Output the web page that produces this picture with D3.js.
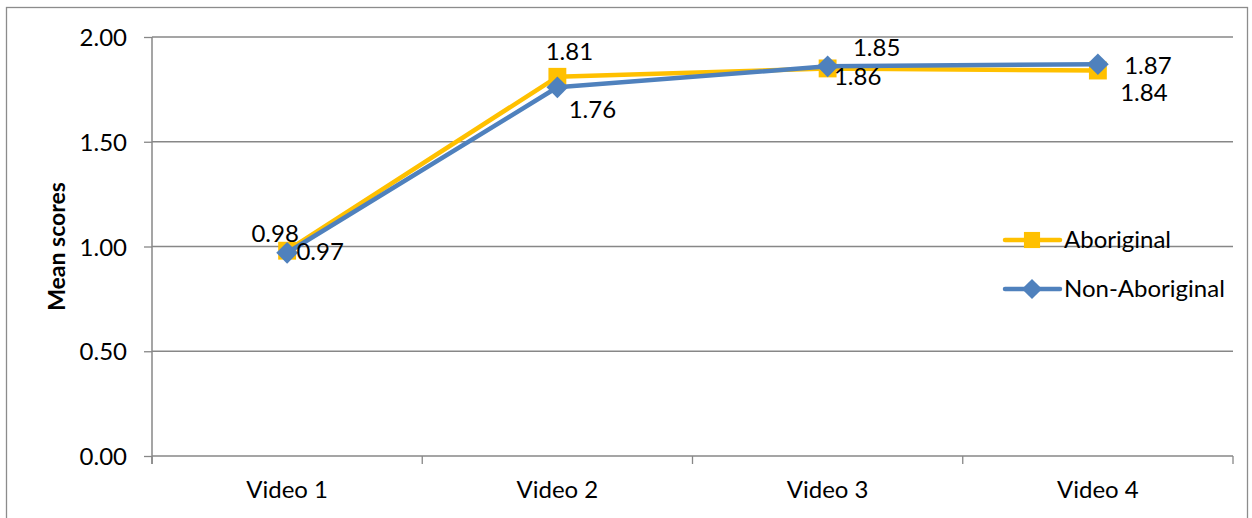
<!DOCTYPE html>
<html><head><meta charset="utf-8">
<script src="https://cdn.jsdelivr.net/npm/d3@7"></script>
<style>body{margin:0;background:#fff}svg{display:block}text{font-family:Lato,"Noto Sans",sans-serif;fill:#000}</style>
</head><body>
<script>
const categories = ["Video 1","Video 2","Video 3","Video 4"];
const aboriginal = [0.98, 1.81, 1.85, 1.84];
const nonAboriginal = [0.97, 1.76, 1.86, 1.87];
const yTicks = [0, 0.5, 1, 1.5, 2];
const seriesNames = ["Aboriginal","Non-Aboriginal"];
const yTitle = "Mean scores";
// label offsets (dx, dy of baseline) relative to each point
const aboOffsets = [[-12,-9],[12,-17],[49,-12],[46,30]];
const nonOffsets = [[33,7],[35,31],[30,19],[50,10]];

const W = 1252, H = 518;
const FS = 24;
const svg = d3.select("body").append("svg").attr("width", W).attr("height", H);
const L = 152, R = 1233, T = 37, B = 456;
const x = d3.scaleBand().domain(categories).range([L, R]).padding(0);
const y = d3.scaleLinear().domain([0, 2]).range([B, T]);
const cx = c => x(c) + x.bandwidth() / 2;

// outer border
svg.append("rect").attr("x", 6.5).attr("y", 7.5).attr("width", 1241).attr("height", 530)
  .attr("fill", "none").attr("stroke", "#8c8c8c").attr("stroke-width", 1.3);

const grid = "#878787";
svg.append("g").selectAll("line").data(yTicks).join("line")
  .attr("x1", L).attr("x2", R).attr("y1", d => y(d)).attr("y2", d => y(d))
  .attr("stroke", grid).attr("stroke-width", 1.3);

const ya = svg.append("g").attr("transform", `translate(${L},0)`)
  .call(d3.axisLeft(y).tickValues(yTicks).tickFormat(d3.format(".2f")).tickSize(8).tickPadding(17));
ya.select(".domain").remove();
ya.selectAll(".tick line").attr("stroke", grid).attr("stroke-width", 1.3);
ya.selectAll(".tick text").attr("font-size", FS).attr("font-family", "Lato").attr("dy", "0.36em").attr("fill", "#000");
svg.append("line").attr("x1", L).attr("x2", L).attr("y1", T).attr("y2", B + 8)
  .attr("stroke", grid).attr("stroke-width", 1.5);

const bounds = categories.map(c => x(c)).concat([x(categories[categories.length-1]) + x.bandwidth()]);
svg.append("g").selectAll("line").data(bounds).join("line")
  .attr("x1", d => d).attr("x2", d => d).attr("y1", B).attr("y2", B + 8)
  .attr("stroke", grid).attr("stroke-width", 1.3);
svg.append("g").selectAll("text").data(categories).join("text")
  .attr("x", d => cx(d)).attr("y", 498).attr("text-anchor", "middle").attr("font-size", FS).text(d => d);

svg.append("text").attr("transform", `translate(65,${(T+B)/2}) rotate(-90)`)
  .attr("text-anchor", "middle").attr("font-size", 23).attr("font-weight", "bold").text(yTitle);

const colA = "#FFC000", colN = "#4F81BD";
const line = d3.line().x((d, i) => cx(categories[i])).y(d => y(d));
const sq = d3.symbol().type(d3.symbolSquare).size(320);
const dm = d3.symbol().type(d3.symbolDiamond2).size(300);

function drawSeries(vals, col, sym) {
  svg.append("path").datum(vals).attr("d", line).attr("fill", "none")
    .attr("stroke", col).attr("stroke-width", 4.5).attr("stroke-linejoin", "round");
  svg.append("g").selectAll("path").data(vals).join("path")
    .attr("d", sym).attr("fill", col)
    .attr("transform", (d, i) => `translate(${cx(categories[i])},${y(d)})`);
}
drawSeries(aboriginal, colA, sq);
drawSeries(nonAboriginal, colN, dm);

function drawLabels(vals, offs) {
  svg.append("g").selectAll("text").data(vals).join("text")
    .attr("x", (d, i) => cx(categories[i]) + offs[i][0])
    .attr("y", (d, i) => y(d) + offs[i][1])
    .attr("text-anchor", "middle").attr("font-size", FS).text(d => d.toFixed(2));
}
drawLabels(aboriginal, aboOffsets);
drawLabels(nonAboriginal, nonOffsets);

const legY = [240, 289];
const legCols = [colA, colN];
const legSyms = [d3.symbol().type(d3.symbolSquare).size(260), d3.symbol().type(d3.symbolDiamond2).size(260)];
seriesNames.forEach((n, i) => {
  const g = svg.append("g");
  g.append("line").attr("x1", 1005).attr("x2", 1060).attr("y1", legY[i]).attr("y2", legY[i])
    .attr("stroke", legCols[i]).attr("stroke-width", 4.5).attr("stroke-linecap", "round");
  g.append("path").attr("d", legSyms[i]()).attr("fill", legCols[i]).attr("transform", `translate(1032,${legY[i]})`);
  g.append("text").attr("x", 1064).attr("y", legY[i] + 8).attr("font-size", FS).text(n);
});
</script>
</body></html>
